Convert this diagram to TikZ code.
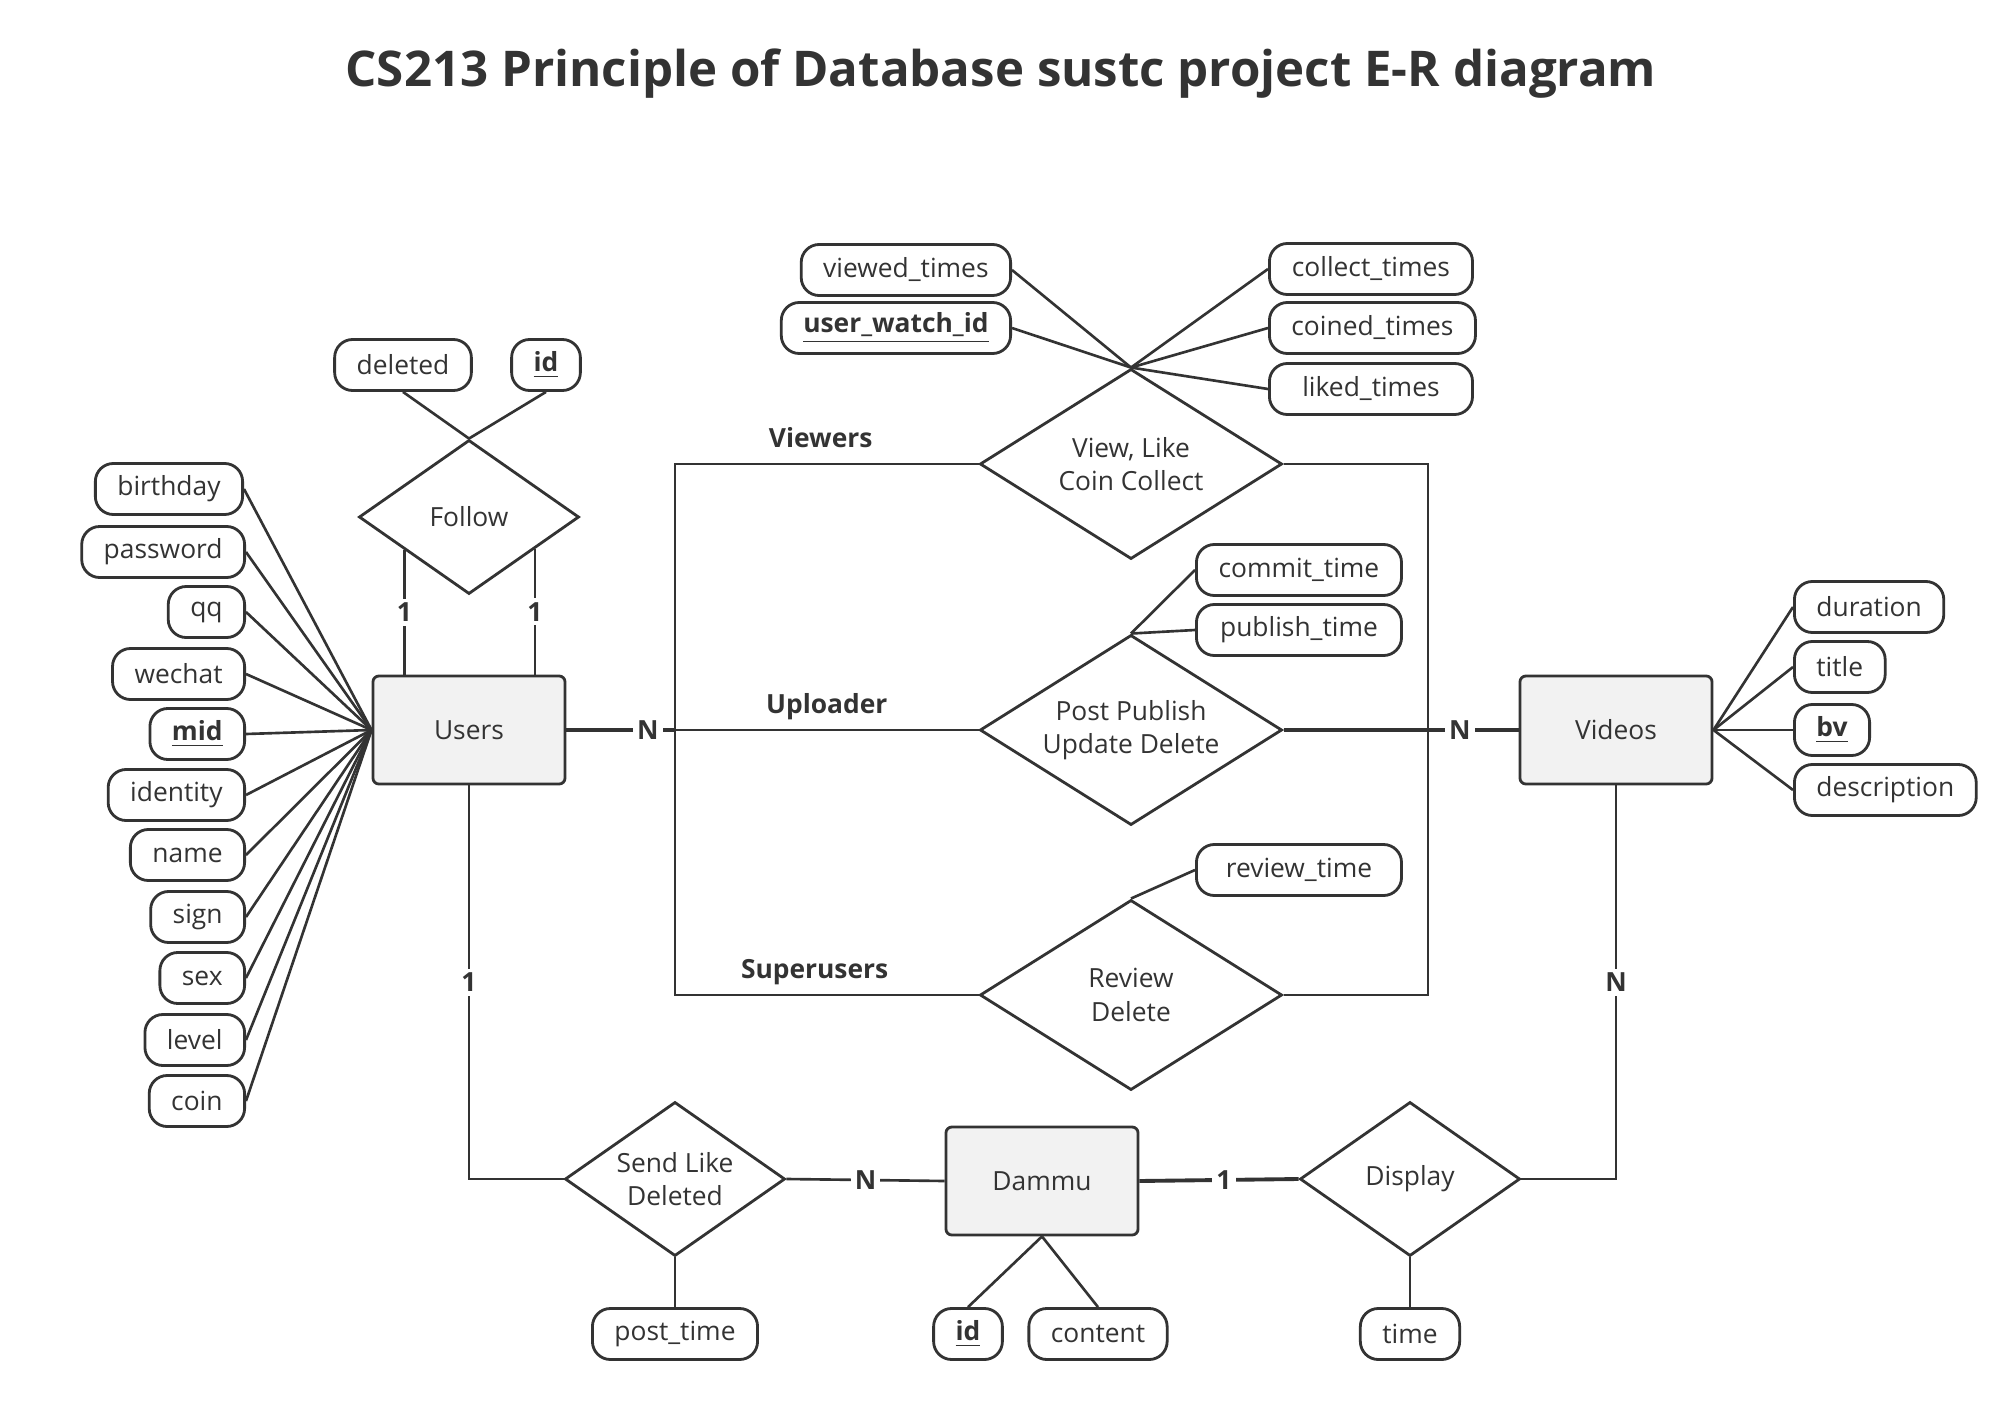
\documentclass[tikz,border=0pt]{standalone}
\usepackage{fontspec}
\setmainfont{Open Sans}
\usetikzlibrary{shapes.geometric}
\usetikzlibrary{positioning}
\definecolor{ink}{HTML}{333333}
\definecolor{entfill}{HTML}{F2F2F2}
\tikzset{
    entity/.style = {rectangle, draw=ink, line width=0.8pt, rounded corners=0.06cm, fill=entfill, minimum width=1.92cm, minimum height=1.08cm},
    attr/.style = {rectangle, draw=ink, line width=0.8pt, rounded corners=0.18cm, minimum height=0.51cm, inner xsep=0.22cm, inner ysep=0pt},
    rel/.style = {diamond, aspect=1.6, draw=ink, line width=0.8pt, minimum width=3.02cm, minimum height=1.9cm, inner sep=0pt, align=center},
    relsm/.style = {rel, aspect=1.43, minimum width=2.2cm, minimum height=1.54cm},
    edgen/.style = {draw=ink, line width=0.75pt},
    edgek/.style = {draw=ink, line width=1.1pt},
    card/.style = {fill=white, inner sep=1.2pt, font=\fontsize{7.5}{9}\selectfont\bfseries},
    role/.style = {anchor=south, yshift=1pt, text depth=0pt, font=\fontsize{7.5}{9}\selectfont\bfseries}
}

\begin{document}
\begin{tikzpicture}[
	x=0.01cm, y=-0.01cm,
	color=ink,
	font=\fontsize{7.5}{9.5}\selectfont]
  \useasboundingbox (0,0) rectangle (2008,1406);
  \node (title) at (1001,74) [font=\fontsize{14}{17}\selectfont\bfseries] {CS213 Principle of Database sustc project E-R diagram};

  % entities
  \node (users) at (469,730) [entity] {Users};
  \node (videos) at (1616,730) [entity] {Videos};
  \node (dammu) at (1042,1181) [entity] {Dammu};

  % relationships
  \node (follow) at (469,517) [relsm] {Follow};
  \node (view) at (1131,464) [rel] {View, Like\\Coin Collect};
  \node (post) at (1131,730) [rel] {Post Publish\\Update Delete};
  \node (review) at (1131,995) [rel] {Review\\Delete};
  \node (send) at (675,1179) [relsm] {Send Like\\Deleted};
  \node (display) at (1410,1179) [relsm] {Display};

  % Users attributes
  \node (birthday) at (244,489) [attr,anchor=east] {birthday};
  \node (password) at (246,552) [attr,anchor=east] {password};
  \node (qq) at (246,612) [attr,anchor=east] {qq};
  \node (wechat) at (246,674) [attr,anchor=east] {wechat};
  \node (mid) at (246,734) [attr,anchor=east] {\underline{\textbf{mid}}};
  \node (identity) at (246,795) [attr,anchor=east] {identity};
  \node (name) at (246,855) [attr,anchor=east] {name};
  \node (sign) at (246,917) [attr,anchor=east] {sign};
  \node (sex) at (246,978) [attr,anchor=east] {sex};
  \node (level) at (246,1040) [attr,anchor=east] {level};
  \node (coin) at (246,1101) [attr,anchor=east] {coin};
  \draw[edgen] (birthday.east) -- (users.west);
  \draw[edgen] (password.east) -- (users.west);
  \draw[edgen] (qq.east) -- (users.west);
  \draw[edgen] (wechat.east) -- (users.west);
  \draw[edgen] (mid.east) -- (users.west);
  \draw[edgen] (identity.east) -- (users.west);
  \draw[edgen] (name.east) -- (users.west);
  \draw[edgen] (sign.east) -- (users.west);
  \draw[edgen] (sex.east) -- (users.west);
  \draw[edgen] (level.east) -- (users.west);
  \draw[edgen] (coin.east) -- (users.west);

  % Follow
  \node (deleted) at (403,365) [attr] {deleted};
  \node (fid) at (546,365) [attr] {\underline{\textbf{id}}};
  \draw[edgen] (deleted.south) -- (follow.north);
  \draw[edgen] (fid.south) -- (follow.north);
  \draw[edgen] (follow.-153) -- node[card] (f1) {1} (follow.-153 |- users.north);
  \draw[edgen] (follow.-26) -- node[card] (f2) {1} (follow.-26 |- users.north);

  % View, Like, Coin, Collect
  \node (viewed) at (1012,270) [attr,anchor=east] {viewed\_times};
  \node (watchid) at (1012,328) [attr,anchor=east] {\underline{\textbf{user\_watch\_id}}};
  \node (collect) at (1268,269) [attr,anchor=west,minimum width=2.03cm] {collect\_times};
  \node (coined) at (1268,328) [attr,anchor=west,minimum width=2.03cm] {coined\_times};
  \node (liked) at (1268,389) [attr,anchor=west,minimum width=2.03cm] {liked\_times};
  \draw[edgen] (viewed.east) -- (view.north);
  \draw[edgen] (watchid.east) -- (view.north);
  \draw[edgen] (collect.west) -- (view.north);
  \draw[edgen] (coined.west) -- (view.north);
  \draw[edgen] (liked.west) -- (view.north);

  % Post, Review
  \node (commit) at (1195,570) [attr,anchor=west,minimum width=2.05cm] {commit\_time};
  \node (publish) at (1195,630) [attr,anchor=west,minimum width=2.05cm] {publish\_time};
  \node (revtime) at (1195,870) [attr,anchor=west,minimum width=2.05cm] {review\_time};
  \draw[edgen] (commit.west) -- (post.north);
  \draw[edgen] (publish.west) -- (post.north);
  \draw[edgen] (revtime.west) -- (review.north);

  % roles
  \coordinate (upl) at (675,730);
  \coordinate (vpr) at (1428,730);
  \draw[edgek] (users.east) -- node[card,pos=0.75] (c1) {N} (upl);
  \draw[edgen] (upl) |- node[role,pos=0.74] (viewers) {Viewers} (view.west);
  \draw[edgen] (upl) -- node[role] (uploader) {Uploader} (post.west);
  \draw[edgen] (upl) |- node[role,pos=0.73] (superusers) {Superusers} (review.west);
  \draw[edgen] (view.east) -| (vpr);
  \draw[edgen] (review.east) -| (vpr);
  \draw[edgek] (post.east) -- node[card,pos=0.75] (c2) {N} (videos.west);

  % Videos attributes
  \node (duration) at (1793,607) [attr,anchor=west] {duration};
  \node (vtitle) at (1793,667) [attr,anchor=west] {title};
  \node (bv) at (1793,730) [attr,anchor=west] {\underline{\textbf{bv}}};
  \node (descr) at (1793,790) [attr,anchor=west] {description};
  \draw[edgen] (videos.east) -- (duration.west);
  \draw[edgen] (videos.east) -- (vtitle.west);
  \draw[edgen] (videos.east) -- (bv.west);
  \draw[edgen] (videos.east) -- (descr.west);

  % Dammu
  \node (did) at (968,1334) [attr] {\underline{\textbf{id}}};
  \node (content) at (1098,1334) [attr] {content};
  \node (posttime) at (675,1334) [attr] {post\_time};
  \node (dtime) at (1410,1334) [attr] {time};
  \draw[edgen] (dammu.south) -- (did.north);
  \draw[edgen] (dammu.south) -- (content.north);
  \draw[edgen] (send.south) -- (posttime.north);
  \draw[edgen] (display.south) -- (dtime.north);
  \draw[edgen] (users.south) |- node[card,pos=0.25] (c3) {1} (send.west);
  \draw[edgen] (send.east) -- node[card] (c4) {N} (dammu.west);
  \draw[edgek] (dammu.east) -- node[card,pos=0.53] (c5) {1} (display.west);
  \draw[edgen] (display.east) -| node[card,pos=0.75] (c6) {N} (videos.south);
\end{tikzpicture}
\end{document}
